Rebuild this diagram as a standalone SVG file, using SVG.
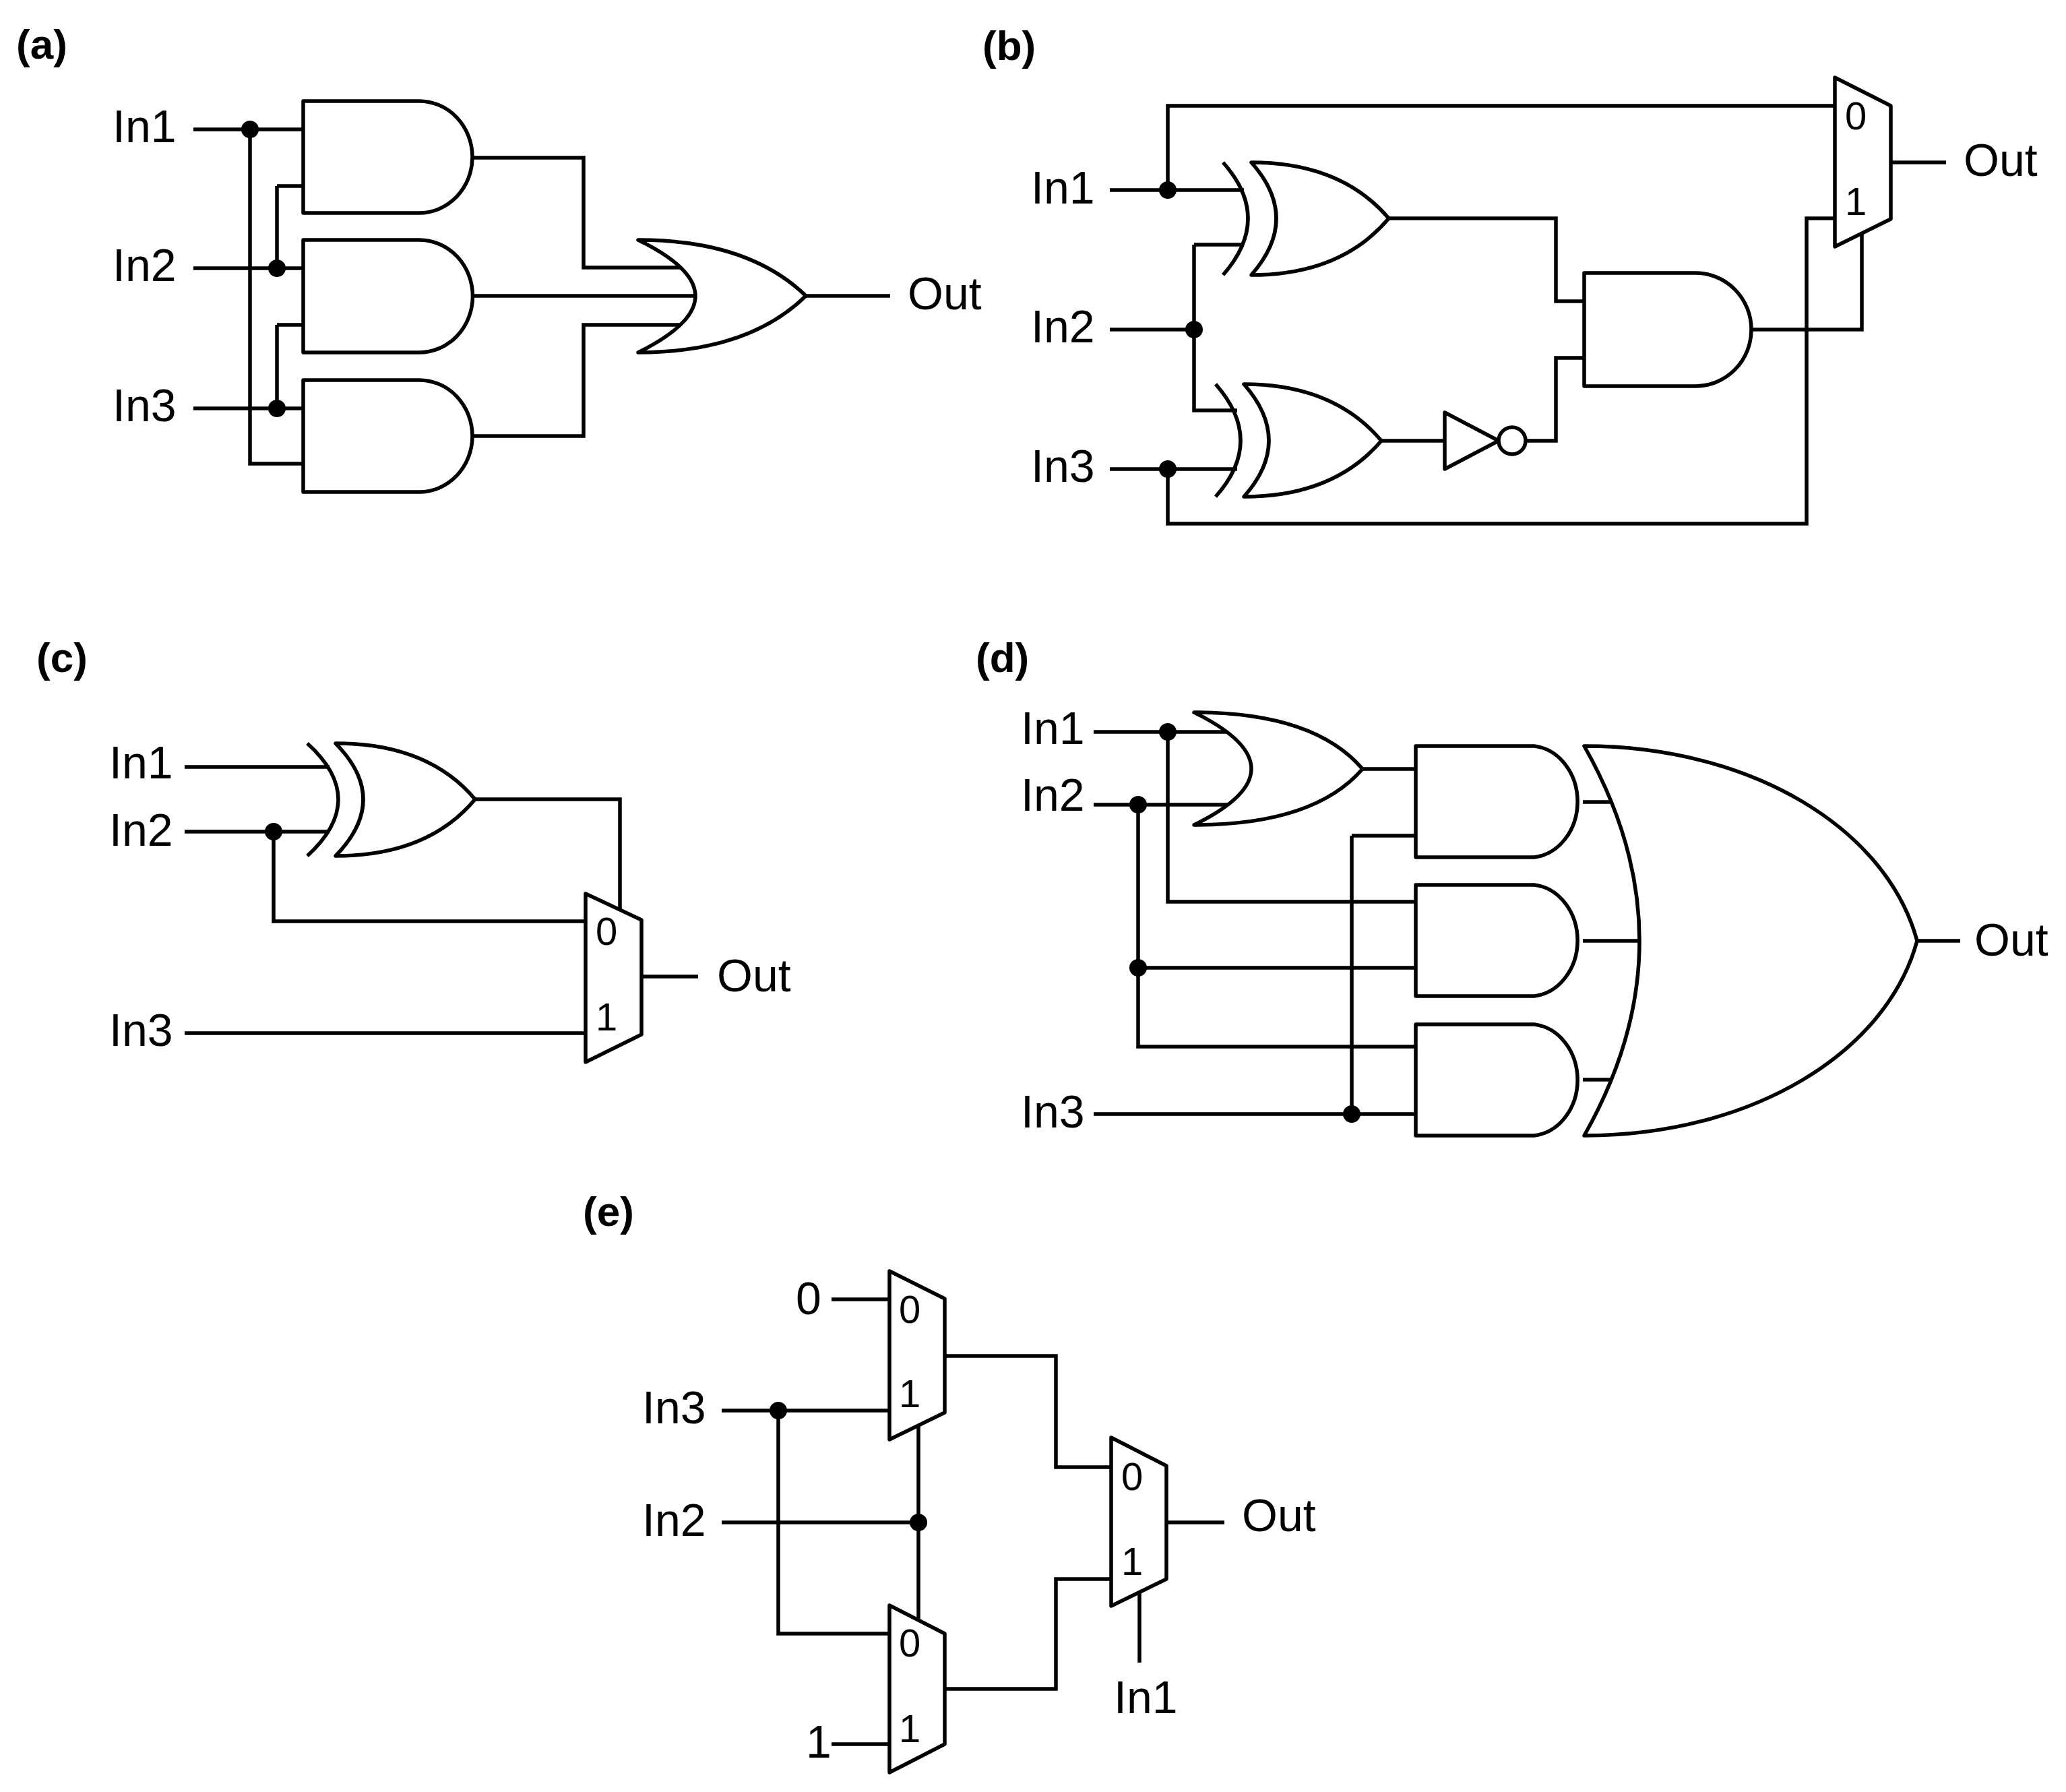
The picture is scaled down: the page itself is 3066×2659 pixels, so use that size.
<svg xmlns="http://www.w3.org/2000/svg" width="3066" height="2659" viewBox="0 0 3066 2659">
<style>
.g{fill:#fff;stroke:#000;stroke-width:5.5;stroke-linejoin:round}
.w{fill:none;stroke:#000;stroke-width:5.5}
.d{fill:#000}
.t{font-family:"Liberation Sans",Arial,sans-serif;font-size:68px;fill:#000}
.m{font-family:"Liberation Sans",Arial,sans-serif;font-size:58px;fill:#000}
.p{font-family:"Liberation Sans",Arial,sans-serif;font-size:62px;font-weight:bold;fill:#000}
</style>
<rect width="3066" height="2659" fill="#fff"/>
<g id="connectors">
<path class="w" d="M287,192H450M287,398H450M287,606H450M371,192V688H450M411,276H450M411,276V398M411,482H450M411,482V606M701,234H866V397H1016M701,439H1032M701,647H866V482H1016M1196,439H1321"/>
<path class="w" d="M1647,282H1846M1733,282V157H2723M1647,489H1772M1772,363H1846M1772,363V609H1836M1647,696H1836M1733,696V777H2681V324H2723M2061,324H2309V447H2351M2050,654H2144M2265,654H2309V531H2351M2599,489H2763V346M2806,241H2888"/>
<path class="w" d="M274,1138H489M274,1234H489M406,1234V1367H869M274,1533H869M705,1186H920V1350M952,1449H1036"/>
<path class="w" d="M1623,1086H1830M1623,1194H1830M1733,1086V1338H2101M1689,1194V1553H2101M1689,1436H2101M2022,1141H2101M2006,1240H2101M2006,1240V1653M1623,1653H2101M2349,1190H2404M2349,1396H2433M2349,1602H2404M2845,1396H2909"/>
<path class="w" d="M1234,1928H1320M1071,2093H1320M1155,2093V2424H1320M1071,2259H1363M1363,2115V2404M1234,2588H1320M1402,2012H1567V2177H1649M1402,2506H1567V2343H1649M1731,2259H1817M1691,2361V2467"/>
</g>
<g id="dots">
<circle class="d" cx="371" cy="192" r="13"/><circle class="d" cx="411" cy="398" r="13"/><circle class="d" cx="411" cy="606" r="13"/>
<circle class="d" cx="1733" cy="282" r="13"/><circle class="d" cx="1772" cy="489" r="13"/><circle class="d" cx="1733" cy="696" r="13"/>
<circle class="d" cx="406" cy="1234" r="13"/>
<circle class="d" cx="1733" cy="1086" r="13"/><circle class="d" cx="1689" cy="1194" r="13"/><circle class="d" cx="1689" cy="1436" r="13"/><circle class="d" cx="2006" cy="1653" r="13"/>
<circle class="d" cx="1155" cy="2093" r="13"/><circle class="d" cx="1363" cy="2259" r="13"/>
</g>
<g id="a">
<text class="p" x="24" y="87">(a)</text>
<text class="t" x="167" y="211">In1</text><text class="t" x="167" y="417">In2</text><text class="t" x="167" y="625">In3</text>
<path id="a-and1" class="g" d="M450,150H622A79 83 0 0 1 622 316H450Z"/>
<path id="a-and2" class="g" d="M450,356H622A79 83 0 0 1 622 523H450Z"/>
<path id="a-and3" class="g" d="M450,564H622A79 83 0 0 1 622 730H450Z"/>
<path id="a-or" class="g" d="M947,356Q1110,356 1196,439Q1110,523 947,523Q1117,439 947,356Z"/>
<text class="t" x="1347" y="459">Out</text>
</g>
<g id="b">
<text class="p" x="1458" y="89">(b)</text>
<text class="t" x="1530" y="302">In1</text><text class="t" x="1530" y="508">In2</text><text class="t" x="1530" y="715">In3</text>
<path id="b-xor1" class="g" d="M1857,241Q1990,241 2061,324Q1990,408 1857,408Q1931,324 1857,241Z"/>
<path class="w" d="M1815,241Q1889,324 1815,408"/>
<path id="b-xor2" class="g" d="M1846,570Q1979,570 2050,654Q1979,737 1846,737Q1920,654 1846,570Z"/>
<path class="w" d="M1804,570Q1878,654 1804,737"/>
<g id="b-not"><path class="g" d="M2144,612L2224,654L2144,696Z"/><circle class="g" cx="2244" cy="654" r="20"/></g>
<path id="b-and" class="g" d="M2351,405H2516A83 84 0 0 1 2516 573H2351Z"/>
<g id="b-mux"><path class="g" d="M2723,115L2806,157V325L2723,366Z"/><text class="m" x="2738" y="192">0</text><text class="m" x="2738" y="319">1</text></g>
<text class="t" x="2914" y="261">Out</text>
</g>
<g id="c">
<text class="p" x="54" y="997">(c)</text>
<text class="t" x="162" y="1155">In1</text><text class="t" x="162" y="1255">In2</text><text class="t" x="162" y="1552">In3</text>
<path id="c-xor" class="g" d="M498,1103Q635,1103 705,1186Q635,1270 498,1270Q580,1186 498,1103Z"/>
<path class="w" d="M456,1103Q548,1186 456,1270"/>
<g id="c-mux"><path class="g" d="M869,1326L952,1365V1535L869,1576Z"/><text class="m" x="884" y="1402">0</text><text class="m" x="884" y="1529">1</text></g>
<text class="t" x="1064" y="1471">Out</text>
</g>
<g id="d">
<text class="p" x="1448" y="997">(d)</text>
<text class="t" x="1515" y="1104">In1</text><text class="t" x="1515" y="1203">In2</text><text class="t" x="1515" y="1673">In3</text>
<path id="d-or" class="g" d="M1772,1057Q1950,1057 2022,1141Q1950,1224 1772,1224Q1942,1141 1772,1057Z"/>
<path id="d-and1" class="g" d="M2101,1107H2277A72 83 0 0 1 2277 1272H2101Z"/>
<path id="d-and2" class="g" d="M2101,1313H2277A72 83 0 0 1 2277 1478H2101Z"/>
<path id="d-and3" class="g" d="M2101,1520H2277A72 83 0 0 1 2277 1685H2101Z"/>
<path id="d-bigor" class="g" d="M2351,1107C2600,1107 2800,1230 2845,1396C2800,1562 2600,1685 2351,1685Q2515,1396 2351,1107Z"/>
<text class="t" x="2930" y="1418">Out</text>
</g>
<g id="e">
<text class="p" x="865" y="1819">(e)</text>
<text class="t" x="1181" y="1950">0</text>
<text class="t" x="953" y="2112">In3</text><text class="t" x="953" y="2279">In2</text>
<text class="t" x="1196" y="2608">1</text>
<g id="e-muxA"><path class="g" d="M1320,1886L1402,1927V2096L1320,2136Z"/><text class="m" x="1334" y="1963">0</text><text class="m" x="1334" y="2088">1</text></g>
<g id="e-muxB"><path class="g" d="M1320,2382L1402,2424V2588L1320,2630Z"/><text class="m" x="1334" y="2458">0</text><text class="m" x="1334" y="2585">1</text></g>
<g id="e-muxC"><path class="g" d="M1649,2133L1731,2175V2343L1649,2383Z"/><text class="m" x="1664" y="2211">0</text><text class="m" x="1664" y="2337">1</text></g>
<text class="t" x="1843" y="2272">Out</text>
<text class="t" x="1653" y="2542">In1</text>
</g>
</svg>
